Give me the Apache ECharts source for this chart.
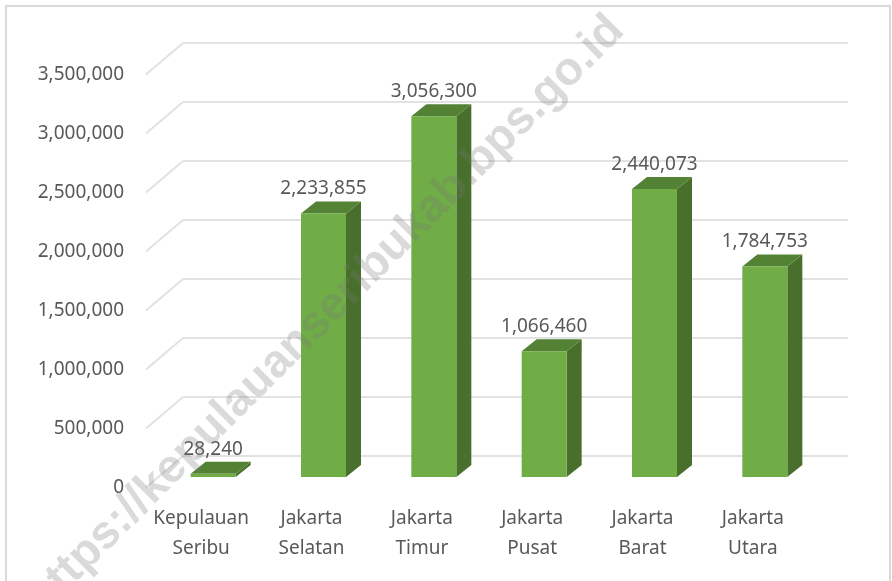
<!DOCTYPE html>
<html>
<head>
<meta charset="utf-8">
<style>
    html, body { margin: 0; padding: 0; background: #fff; }
    #chart { width: 892px; height: 581px; }
</style>
<script src="https://cdn.jsdelivr.net/npm/echarts@6/dist/echarts.min.js"></script>
</head>
<body>
<div id="chart"></div>
<script>
const categories = ['Kepulauan Seribu', 'Jakarta Selatan', 'Jakarta Timur', 'Jakarta Pusat', 'Jakarta Barat', 'Jakarta Utara']
const values = [28240, 2233855, 3056300, 1066460, 2440073, 1784753]
const tickValues = [0, 500000, 1000000, 1500000, 2000000, 2500000, 3000000, 3500000]
const watermark = 'https://kepulauanseribukab.bps.go.id'

const textColor = '#595959'
const font = '"Noto Sans", sans-serif'
const fmt = v => v.toLocaleString('en-US')

const myChart = echarts.init(document.getElementById('chart'), null, { renderer: 'canvas' })

// front of the bar sits a little inside the floor, so shift it from the axis position
const barShiftX = 12
const barShiftY = -10.5
const depthX = 15
const depthY = 12
const barWidth = 45

const renderBar = (params, api) => {
    const p = api.coord([api.value(0), api.value(1)])
    const base = api.coord([api.value(0), 0])
    const l = p[0] + barShiftX - barWidth / 2
    const r = l + barWidth
    const top = p[1] + barShiftY
    const bottom = base[1] + barShiftY
    return {
        type: 'group',
        children: [
            { type: 'polygon', shape: { points: [[r, bottom], [r + depthX, bottom - depthY], [r + depthX, top - depthY], [r, top]] }, style: { fill: '#48702C' } },
            { type: 'polygon', shape: { points: [[l, top], [l + depthX, top - depthY], [r + depthX, top - depthY], [r, top]] }, style: { fill: '#548235' } },
            { type: 'rect', shape: { x: l, y: top, width: barWidth, height: bottom - top }, style: { fill: '#70AD47' } },
            { type: 'text', style: { x: l + barWidth / 2, y: top - 24.5, text: fmt(api.value(1)), fill: textColor, font: '19px ' + font, align: 'center', verticalAlign: 'middle' } }
        ]
    }
}

// left wall lines, going from the label height up to the back wall
const renderWall = (params, api) => {
    const p = api.coord([0, api.value(0)])
    const x = params.coordSys.x
    return {
        type: 'line',
        shape: { x1: x, y1: p[1], x2: x + 37, y2: p[1] - 31.5 },
        style: { stroke: '#E2E2E2', lineWidth: 2 }
    }
}

const option = {
    animation: false,
    backgroundColor: '#fff',
    grid: [
        { left: 183, width: 665, top: 43, height: 413 },
        { left: 146, width: 662, top: 74.5, height: 413 }
    ],
    xAxis: [
        { type: 'category', gridIndex: 0, data: categories, show: false },
        {
            type: 'category',
            gridIndex: 1,
            data: categories,
            axisLine: { show: false },
            axisTick: { show: false },
            axisLabel: {
                interval: 0,
                margin: 16,
                color: textColor,
                fontFamily: font,
                fontSize: 19,
                lineHeight: 30,
                formatter: v => v.replace(' ', '\n')
            }
        }
    ],
    yAxis: [
        {
            type: 'value',
            gridIndex: 0,
            min: 0,
            max: 3500000,
            interval: 500000,
            axisLine: { show: false },
            axisTick: { show: false },
            axisLabel: { show: false },
            splitLine: { show: true, lineStyle: { color: '#E2E2E2', width: 2 } }
        },
        {
            type: 'value',
            gridIndex: 1,
            min: 0,
            max: 3500000,
            interval: 500000,
            axisLine: { show: false },
            axisTick: { show: false },
            splitLine: { show: false },
            axisLabel: { margin: 22, color: textColor, fontFamily: font, fontSize: 19, formatter: v => fmt(v) }
        }
    ],
    series: [
        {
            type: 'custom',
            xAxisIndex: 1,
            yAxisIndex: 1,
            renderItem: renderWall,
            data: tickValues.map(v => [v]),
            encode: { y: 0 },
            clip: false,
            silent: true,
            z: 1
        },
        {
            type: 'custom',
            xAxisIndex: 1,
            yAxisIndex: 1,
            renderItem: renderBar,
            data: values.map((v, i) => [i, v]),
            encode: { x: 0, y: 1 },
            clip: false,
            z: 3
        }
    ],
    graphic: [
        {
            type: 'rect',
            z: 0,
            shape: { x: 6, y: 6, width: 884, height: 600 },
            style: { fill: 'none', stroke: '#D9D9D9', lineWidth: 2 }
        },
        {
            type: 'text',
            z: 10,
            x: 34,
            y: 606,
            rotation: 45 * Math.PI / 180,
            style: {
                text: watermark,
                fill: 'rgba(120,120,120,0.27)',
                font: 'bold 46.5px "Liberation Sans", sans-serif',
                align: 'left',
                verticalAlign: 'middle'
            }
        }
    ]
}
myChart.setOption(option)
</script>
</body>
</html>
